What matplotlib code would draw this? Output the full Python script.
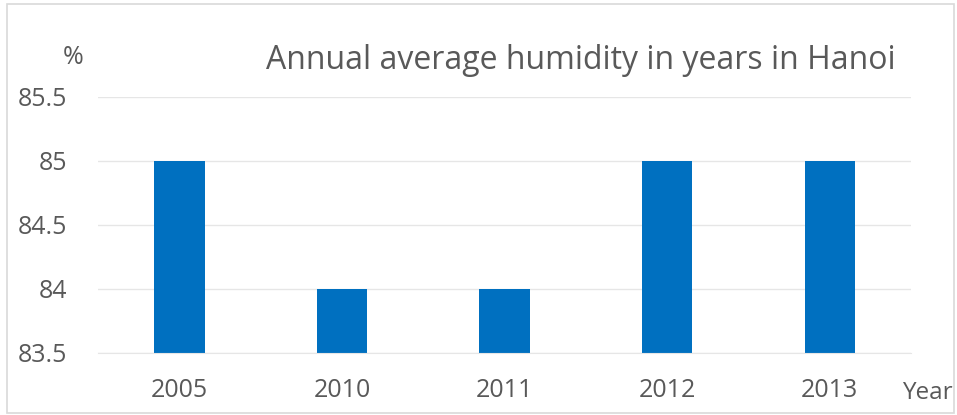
import matplotlib.pyplot as plt
from matplotlib.patches import Rectangle

years = ['2005', '2010', '2011', '2012', '2013']
humidity = [85, 84, 84, 85, 85]
y_ticks = [83.5, 84, 84.5, 85, 85.5]

plt.rcParams['font.family'] = ['Open Sans', 'DejaVu Sans']
txt = '#595959'

fig = plt.figure(figsize=(9.57, 4.15), dpi=100)
ax = fig.add_axes([0.1024, 0.1494, 0.8496, 0.6169])

# bars start from the axis floor, like the excel chart
base = y_ticks[0]
ax.bar(years, [h - base for h in humidity], bottom=base, width=0.31, color='#0070C0')

ax.set_ylim(83.5, 85.5)
ax.set_xlim(-0.5, len(years) - 0.5)
ax.set_yticks(y_ticks)
ax.set_yticklabels(['83.5', '84', '84.5', '85', '85.5'])
ax.yaxis.grid(True, color='#e6e6e6', linewidth=1)
ax.set_axisbelow(True)
for s in ['top', 'right', 'left']:
    ax.spines[s].set_visible(False)
ax.spines['bottom'].set_color('#e6e6e6')
ax.tick_params(axis='both', length=0, labelsize=18, colors=txt)
ax.tick_params(axis='x', pad=18)
ax.tick_params(axis='y', pad=22)

fig.text(0.607, 0.855, 'Annual average humidity in years in Hanoi', fontsize=23,
         color=txt, ha='center', va='center')
fig.text(0.076, 0.862, '%', fontsize=18, color=txt, ha='center', va='center')
fig.text(0.969, 0.052, 'Year', fontsize=17.5, color=txt, ha='center', va='center')

fig.patches.append(Rectangle((0.007, 0.005), 0.99, 0.985, transform=fig.transFigure,
                             fill=False, edgecolor='#d9d9d9', linewidth=1.2))

fig.savefig('out.png', dpi=100)
